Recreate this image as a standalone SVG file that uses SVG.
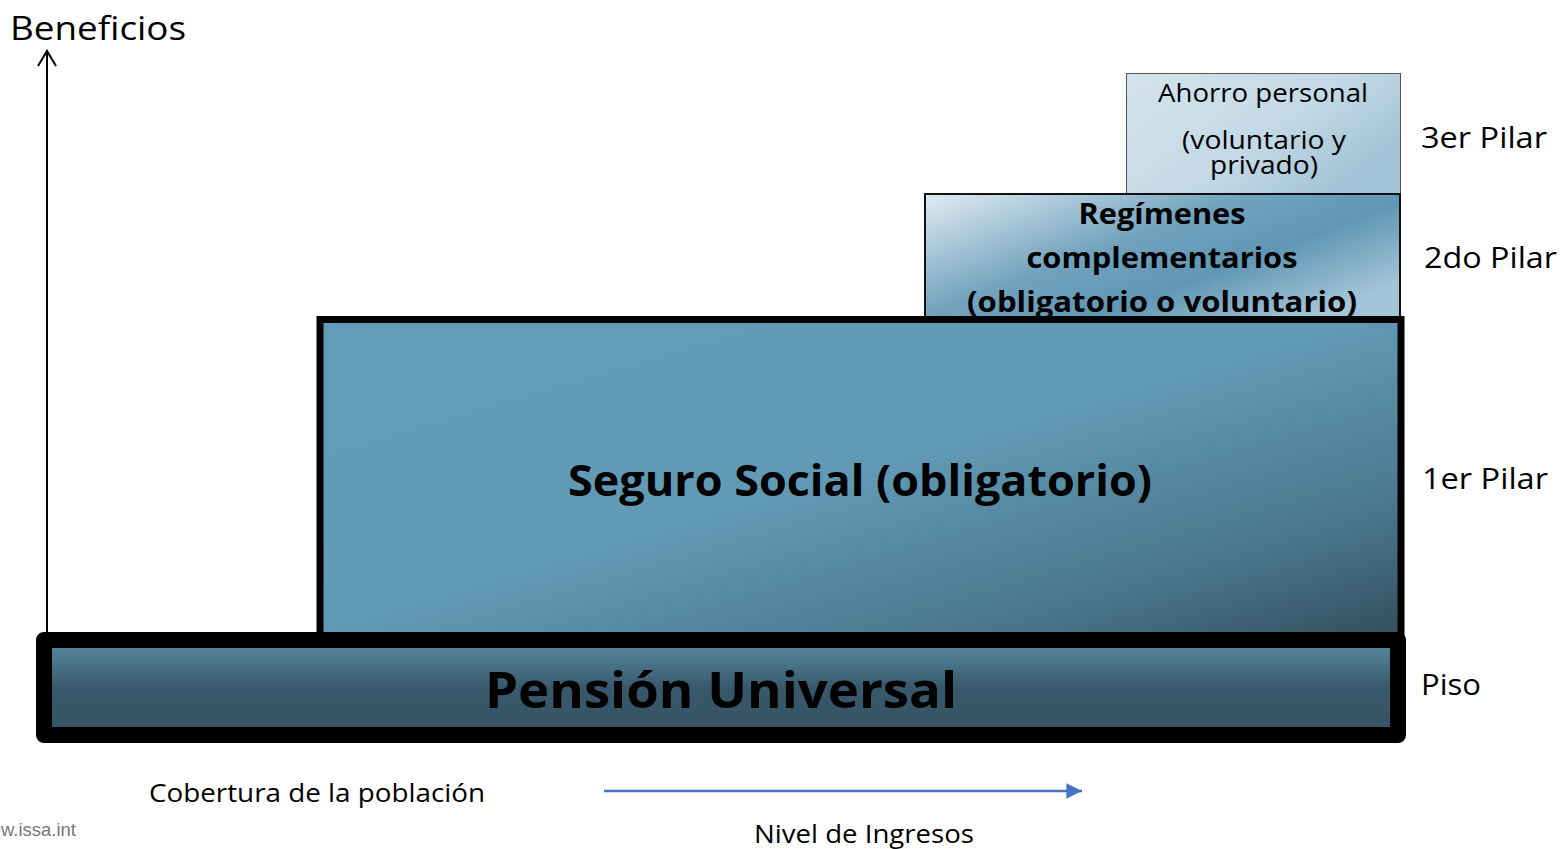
<svg xmlns="http://www.w3.org/2000/svg" width="1562" height="849" viewBox="0 0 1562 849">
<style>
text{font-family:"Open Sans","Noto Sans","Liberation Sans",sans-serif;fill:#000}
.b{font-weight:bold}
.lbl{font-size:29px}
.axis{stroke:#000;stroke-width:2;fill:none}
</style>
<defs>
<linearGradient id="gPiso" x1="0" y1="0" x2="0" y2="1">
<stop offset="0" stop-color="#5b8da4"/>
<stop offset="0.5" stop-color="#38596b"/>
<stop offset="1" stop-color="#355465"/>
</linearGradient>
<linearGradient id="gSeg" x1="0" y1="0" x2="1" y2="1">
<stop offset="0" stop-color="#639cb7"/>
<stop offset="0.48" stop-color="#619ab5"/>
<stop offset="0.78" stop-color="#4b788e"/>
<stop offset="1" stop-color="#324e5d"/>
</linearGradient>
<linearGradient id="gReg" x1="0" y1="0" x2="1" y2="0.7">
<stop offset="0" stop-color="#e2ebf2"/>
<stop offset="0.45" stop-color="#72a3be"/>
<stop offset="0.7" stop-color="#6097b4"/>
<stop offset="1" stop-color="#a4c4d7"/>
</linearGradient>
<linearGradient id="gAho" x1="0" y1="0" x2="1" y2="0.6">
<stop offset="0" stop-color="#d3e3ec"/>
<stop offset="0.6" stop-color="#c4d9e6"/>
<stop offset="1" stop-color="#a2c2d5"/>
</linearGradient>
<marker id="mBlue" viewBox="0 0 10 10" refX="10" refY="5" markerWidth="6" markerHeight="6" markerUnits="strokeWidth" orient="auto">
<path d="M0,0 L10,5 L0,10 z" fill="#4472c4"/>
</marker>
</defs>

<g id="connectors">
<line class="axis" x1="47" y1="634" x2="47" y2="52"/>
<polyline class="axis" points="38,66 47,51 56,66"/>
<line x1="604" y1="791" x2="1082" y2="791" stroke="#4472c4" stroke-width="2.6" marker-end="url(#mBlue)"/>
</g>

<g id="ahorro">
<rect x="1126.5" y="73.5" width="274" height="120" fill="url(#gAho)" stroke="#555" stroke-width="1"/>
<text x="1263" y="102" text-anchor="middle" font-size="25" textLength="210" lengthAdjust="spacingAndGlyphs">Ahorro personal</text>
<text x="1264" y="149" text-anchor="middle" font-size="25" textLength="164" lengthAdjust="spacingAndGlyphs">(voluntario y</text>
<text x="1264" y="174" text-anchor="middle" font-size="25" textLength="108" lengthAdjust="spacingAndGlyphs">privado)</text>
</g>

<g id="regimenes">
<rect x="925" y="194" width="475" height="126" fill="url(#gReg)" stroke="#111" stroke-width="2"/>
<text class="b" x="1162" y="224" text-anchor="middle" font-size="29" textLength="167" lengthAdjust="spacingAndGlyphs">Regímenes</text>
<text class="b" x="1162" y="268" text-anchor="middle" font-size="29" textLength="271" lengthAdjust="spacingAndGlyphs">complementarios</text>
<text class="b" x="1162" y="312" text-anchor="middle" font-size="29" textLength="390" lengthAdjust="spacingAndGlyphs">(obligatorio o voluntario)</text>
</g>

<g id="seguro">
<rect x="320" y="319.5" width="1081" height="320" fill="url(#gSeg)" stroke="#000" stroke-width="7"/>
<text class="b" x="860" y="496" text-anchor="middle" font-size="43" textLength="584" lengthAdjust="spacingAndGlyphs">Seguro Social (obligatorio)</text>
</g>

<g id="piso">
<rect x="44" y="640" width="1354" height="95" fill="url(#gPiso)" stroke="#000" stroke-width="16" stroke-linejoin="round"/>
<text class="b" x="721" y="708" text-anchor="middle" font-size="50" textLength="472" lengthAdjust="spacingAndGlyphs">Pensión Universal</text>
</g>

<g id="labels">
<text x="10" y="40" font-size="33" textLength="176" lengthAdjust="spacingAndGlyphs">Beneficios</text>
<text class="lbl" x="1421" y="148" textLength="126" lengthAdjust="spacingAndGlyphs">3er Pilar</text>
<text class="lbl" x="1424" y="268" textLength="133" lengthAdjust="spacingAndGlyphs">2do Pilar</text>
<text class="lbl" x="1422" y="489" textLength="126" lengthAdjust="spacingAndGlyphs">1er Pilar</text>
<text class="lbl" x="1421" y="695" textLength="60" lengthAdjust="spacingAndGlyphs">Piso</text>
<text x="149" y="802" font-size="25" textLength="336" lengthAdjust="spacingAndGlyphs">Cobertura de la población</text>
<text x="754" y="843" font-size="25" textLength="220" lengthAdjust="spacingAndGlyphs">Nivel de Ingresos</text>
<text x="1" y="836" font-size="19" style="font-family:'Liberation Sans',Arial,sans-serif;fill:#777" textLength="75" lengthAdjust="spacingAndGlyphs">w.issa.int</text>
</g>
</svg>
